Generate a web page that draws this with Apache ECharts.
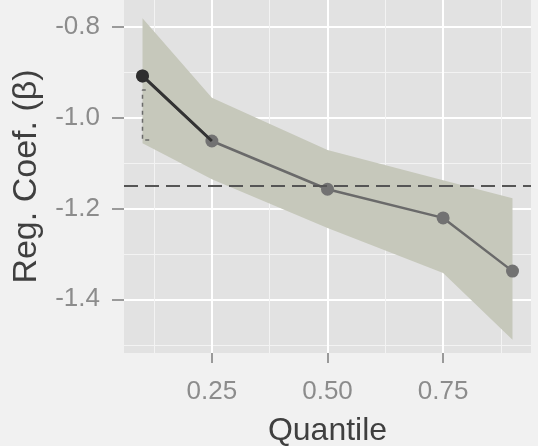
<!DOCTYPE html>
<html>
<head>
<meta charset="utf-8">
<script src="https://cdn.jsdelivr.net/npm/echarts@6/dist/echarts.min.js"></script>
<style>
html,body{margin:0;padding:0;background:#f1f1f1;}
#chart{width:538px;height:446px;}
</style>
</head>
<body>
<div id="chart"></div>
<script>
// Data
const quantiles = [0.1, 0.25, 0.5, 0.75, 0.9];
const coef      = [-0.909, -1.052, -1.158, -1.221, -1.338];
const ciUpper   = [-0.782, -0.957, -1.072, -1.138, -1.178];
const ciLower   = [-1.057, -1.136, -1.243, -1.342, -1.489];
const olsCoef   = -1.147;
// small dashed bracket near the first quantile
const bracketX  = [0.107, 0.1, 0.1, 0.12];
const bracketY  = [-0.94, -0.94, -1.05, -1.05];
const xTicks = [0.25, 0.5, 0.75];
const xMinor = [0.125, 0.375, 0.625, 0.875];
const yTicks = [-1.4, -1.2, -1.0, -0.8];
const yMinor = [-1.5, -1.3, -1.1, -0.9];
const xTitle = 'Quantile';
const yTitle = 'Reg. Coef. (β)';

const FONT = 'Liberation Sans, Arial, sans-serif';
const xMin = 0.06, xMax = 0.94, yMin = -1.518, yMax = -0.742;

const chart = echarts.init(document.getElementById('chart'), null, {renderer: 'canvas'});

const ribbonPts = quantiles.map((q, i) => [q, ciUpper[i], ciLower[i]]);

const option = {
  backgroundColor: '#f1f1f1',
  animation: false,
  grid: {left: 124, right: 7, top: 0, bottom: 93, show: true, backgroundColor: '#e2e2e2', borderWidth: 0,
         containLabel: false, outerBoundsMode: 'none'},
  xAxis: [{
    type: 'value', min: xMin, max: xMax,
    name: xTitle, nameLocation: 'middle', nameGap: 62,
    nameTextStyle: {fontFamily: FONT, fontSize: 32, color: '#3f3f3f'},
    axisLine: {show: false},
    axisTick: {show: true, length: 10, customValues: xTicks, lineStyle: {color: '#9a9a9a', width: 2}},
    axisLabel: {customValues: xTicks, margin: 26, fontFamily: FONT, fontSize: 26, color: '#8c8c8c',
      formatter: v => v.toFixed(2)},
    splitLine: {show: true, lineStyle: {color: '#ffffff', width: 2}}
  }, {
    type: 'value', min: xMin, max: xMax, position: 'bottom',
    axisLine: {show: false}, axisLabel: {show: false},
    axisTick: {show: false, customValues: xMinor},
    splitLine: {show: true, lineStyle: {color: '#f3f3f3', width: 1}}
  }],
  yAxis: [{
    type: 'value', min: yMin, max: yMax,
    name: yTitle, nameLocation: 'middle', nameGap: 80,
    nameTextStyle: {fontFamily: FONT, fontSize: 34, color: '#3f3f3f'},
    axisLine: {show: false},
    axisTick: {show: true, length: 12, customValues: yTicks, lineStyle: {color: '#9a9a9a', width: 2}},
    axisLabel: {customValues: yTicks, margin: 24, fontFamily: FONT, fontSize: 26, color: '#8c8c8c',
      formatter: v => v.toFixed(1)},
    splitLine: {show: true, lineStyle: {color: '#ffffff', width: 2}}
  }, {
    type: 'value', min: yMin, max: yMax, position: 'left',
    axisLine: {show: false}, axisLabel: {show: false},
    axisTick: {show: false, customValues: yMinor},
    splitLine: {show: true, lineStyle: {color: '#f3f3f3', width: 1}}
  }],
  series: [
    {
      type: 'custom',
      xAxisIndex: 0, yAxisIndex: 0,
      clip: true,
      data: [0],
      z: 1,
      renderItem: function (params, api) {
        const up = ribbonPts.map(p => api.coord([p[0], p[1]]));
        const lo = ribbonPts.map(p => api.coord([p[0], p[2]])).reverse();
        return {
          type: 'polygon',
          shape: {points: up.concat(lo)},
          style: {fill: '#c6c8bb', stroke: null}
        };
      }
    },
    {
      type: 'line',
      data: quantiles.map((q, i) => [q, coef[i]]),
      symbol: 'circle', symbolSize: 13,
      itemStyle: {color: '#727272'},
      lineStyle: {color: '#6a6a6a', width: 2.5},
      z: 3,
      markLine: {
        silent: true, symbol: 'none',
        label: {show: false},
        lineStyle: {color: '#555555', width: 2, type: [14, 7]},
        data: [{yAxis: olsCoef}]
      }
    },
    {
      type: 'line',
      data: quantiles.slice(0, 2).map((q, i) => [q, coef[i]]),
      symbol: 'circle',
      symbolSize: (v, p) => p.dataIndex === 0 ? 13 : 0,
      itemStyle: {color: '#2e2e2e'},
      lineStyle: {color: '#333333', width: 3},
      z: 4
    },
    {
      type: 'line',
      data: bracketX.map((x, i) => [x, bracketY[i]]),
      symbol: 'none',
      lineStyle: {color: '#6a6a6a', width: 1.5, type: [4, 4]},
      z: 2
    }
  ]
};
chart.setOption(option);
</script>
</body>
</html>
